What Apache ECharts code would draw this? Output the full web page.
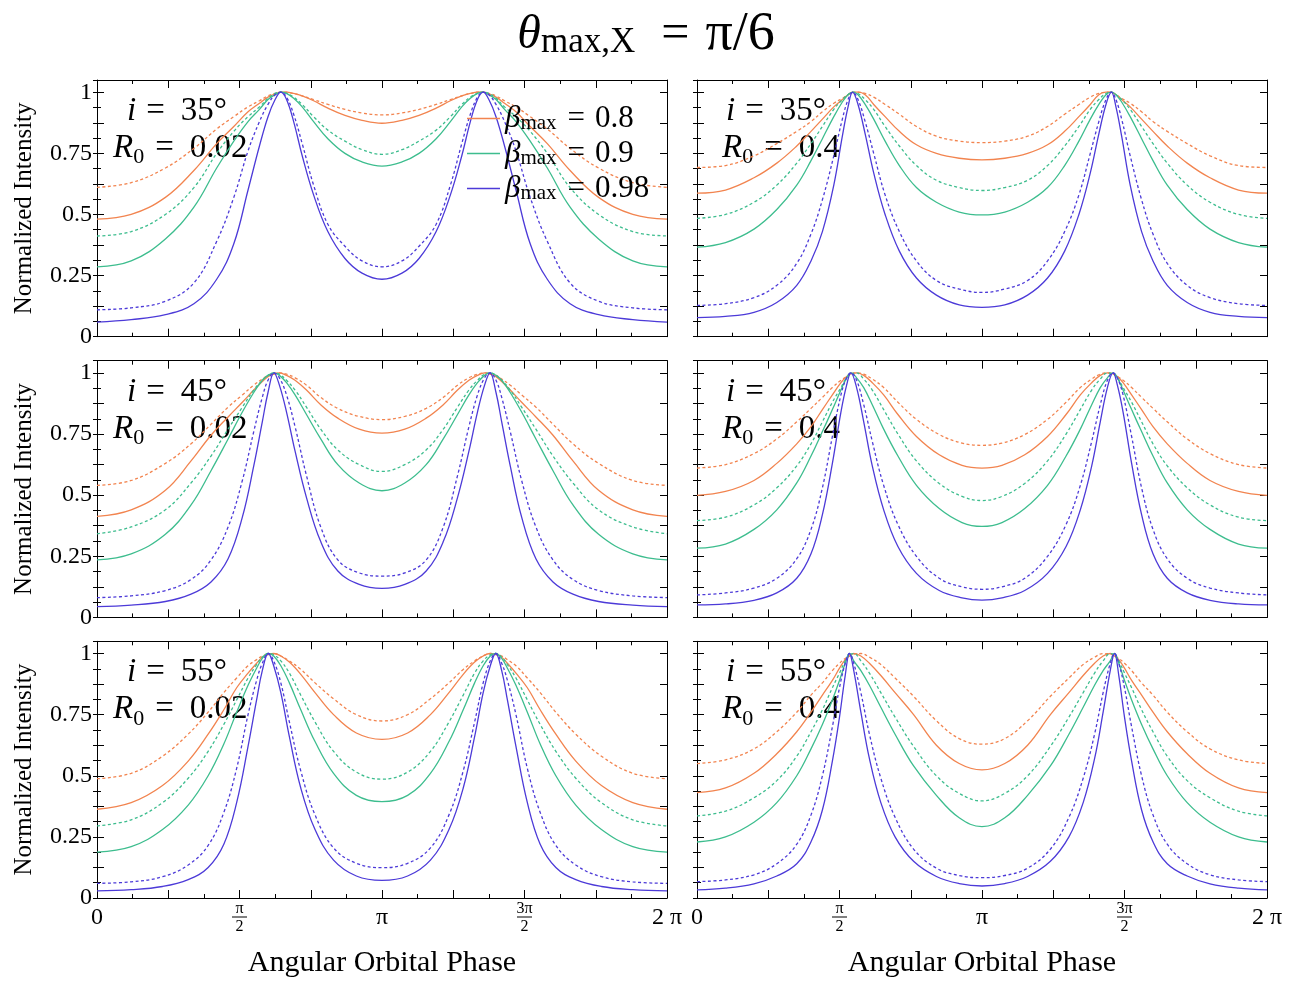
<!DOCTYPE html>
<html>
<head>
<meta charset="utf-8">
<script src="https://cdn.jsdelivr.net/npm/echarts@6/dist/echarts.min.js"></script>
<style>
  html, body { margin: 0; padding: 0; background: #fff; }
  #chart { width: 1292px; height: 1003px; }
</style>
</head>
<body>
<div id="chart"></div>
<script>
// phase is in units of pi (0 .. 2)
const phase_i35_R002 = [0, 0.12, 0.24, 0.34, 0.42, 0.48, 0.53, 0.57, 0.6, 0.625, 0.645, 0.665, 0.69, 0.72, 0.76, 0.81, 0.87, 0.93, 1, 1.07, 1.13, 1.19, 1.24, 1.28, 1.31, 1.335, 1.355, 1.375, 1.4, 1.43, 1.47, 1.52, 1.58, 1.66, 1.76, 1.88, 2];
const i35_R002_b08 = [0.481, 0.5, 0.57, 0.68, 0.79, 0.86, 0.92, 0.955, 0.98, 0.993, 1, 1, 0.995, 0.985, 0.965, 0.935, 0.905, 0.885, 0.873, 0.885, 0.905, 0.935, 0.965, 0.985, 0.995, 1, 1, 0.993, 0.98, 0.955, 0.92, 0.86, 0.79, 0.68, 0.57, 0.5, 0.481];
const i35_R002_b08_dot = [0.611, 0.63, 0.69, 0.77, 0.85, 0.9, 0.94, 0.965, 0.985, 0.995, 1, 1, 0.995, 0.985, 0.97, 0.95, 0.93, 0.915, 0.907, 0.915, 0.93, 0.95, 0.97, 0.985, 0.995, 1, 1, 0.995, 0.985, 0.965, 0.94, 0.9, 0.85, 0.77, 0.69, 0.63, 0.611];
const i35_R002_b09 = [0.286, 0.31, 0.4, 0.53, 0.69, 0.8, 0.88, 0.93, 0.97, 0.99, 1, 0.995, 0.975, 0.94, 0.88, 0.81, 0.75, 0.715, 0.698, 0.715, 0.75, 0.81, 0.88, 0.94, 0.975, 0.995, 1, 0.99, 0.97, 0.93, 0.88, 0.8, 0.69, 0.53, 0.4, 0.31, 0.286];
const i35_R002_b09_dot = [0.412, 0.43, 0.5, 0.61, 0.75, 0.84, 0.9, 0.94, 0.975, 0.995, 1, 0.995, 0.98, 0.95, 0.9, 0.845, 0.8, 0.765, 0.746, 0.765, 0.8, 0.845, 0.9, 0.95, 0.98, 0.995, 1, 0.995, 0.975, 0.94, 0.9, 0.84, 0.75, 0.61, 0.5, 0.43, 0.412];
const i35_R002_b098 = [0.06, 0.07, 0.09, 0.135, 0.235, 0.38, 0.6, 0.78, 0.9, 0.97, 1, 0.97, 0.88, 0.74, 0.58, 0.43, 0.32, 0.26, 0.235, 0.26, 0.32, 0.43, 0.58, 0.74, 0.88, 0.97, 1, 0.97, 0.9, 0.78, 0.6, 0.38, 0.235, 0.135, 0.09, 0.07, 0.06];
const i35_R002_b098_dot = [0.11, 0.118, 0.145, 0.22, 0.39, 0.57, 0.76, 0.88, 0.95, 0.99, 1, 0.98, 0.91, 0.79, 0.62, 0.46, 0.37, 0.31, 0.286, 0.31, 0.37, 0.46, 0.62, 0.79, 0.91, 0.98, 1, 0.99, 0.95, 0.88, 0.76, 0.57, 0.39, 0.22, 0.145, 0.118, 0.11];

const phase_i35_R04 = [0, 0.1, 0.2, 0.28, 0.35, 0.4, 0.44, 0.48, 0.51, 0.53, 0.546, 0.565, 0.59, 0.62, 0.66, 0.71, 0.77, 0.84, 0.92, 1, 1.08, 1.16, 1.23, 1.29, 1.34, 1.38, 1.41, 1.435, 1.454, 1.47, 1.49, 1.52, 1.56, 1.6, 1.65, 1.72, 1.8, 1.9, 2];
const i35_R04_b08 = [0.587, 0.6, 0.65, 0.71, 0.78, 0.84, 0.89, 0.94, 0.97, 0.99, 1, 1, 0.99, 0.95, 0.9, 0.84, 0.785, 0.75, 0.73, 0.723, 0.73, 0.75, 0.785, 0.84, 0.9, 0.95, 0.99, 1, 1, 0.99, 0.97, 0.94, 0.89, 0.84, 0.78, 0.71, 0.65, 0.6, 0.587];
const i35_R04_b08_dot = [0.692, 0.7, 0.74, 0.79, 0.84, 0.88, 0.92, 0.955, 0.975, 0.99, 0.998, 1, 0.995, 0.98, 0.95, 0.91, 0.86, 0.82, 0.8, 0.794, 0.8, 0.82, 0.86, 0.91, 0.95, 0.98, 0.995, 1, 0.998, 0.99, 0.975, 0.955, 0.92, 0.88, 0.84, 0.79, 0.74, 0.7, 0.692];
const i35_R04_b09 = [0.366, 0.385, 0.44, 0.52, 0.62, 0.72, 0.81, 0.9, 0.96, 0.99, 1, 0.99, 0.95, 0.89, 0.8, 0.7, 0.61, 0.55, 0.51, 0.498, 0.51, 0.55, 0.61, 0.7, 0.8, 0.89, 0.95, 0.99, 1, 0.99, 0.96, 0.9, 0.81, 0.72, 0.62, 0.52, 0.44, 0.385, 0.366];
const i35_R04_b09_dot = [0.484, 0.5, 0.55, 0.62, 0.71, 0.79, 0.86, 0.93, 0.97, 0.99, 1, 0.995, 0.97, 0.93, 0.86, 0.78, 0.7, 0.64, 0.61, 0.598, 0.61, 0.64, 0.7, 0.78, 0.86, 0.93, 0.97, 0.995, 1, 0.99, 0.97, 0.93, 0.86, 0.79, 0.71, 0.62, 0.55, 0.5, 0.484];
const i35_R04_b098 = [0.078, 0.083, 0.1, 0.14, 0.21, 0.31, 0.43, 0.62, 0.82, 0.94, 1, 0.95, 0.83, 0.67, 0.5, 0.35, 0.24, 0.17, 0.13, 0.12, 0.13, 0.17, 0.24, 0.35, 0.5, 0.67, 0.83, 0.95, 1, 0.94, 0.82, 0.62, 0.43, 0.31, 0.21, 0.14, 0.1, 0.083, 0.078];
const i35_R04_b098_dot = [0.128, 0.135, 0.16, 0.21, 0.3, 0.42, 0.56, 0.74, 0.89, 0.97, 1, 0.97, 0.88, 0.75, 0.58, 0.43, 0.31, 0.23, 0.195, 0.181, 0.195, 0.23, 0.31, 0.43, 0.58, 0.75, 0.88, 0.97, 1, 0.97, 0.89, 0.74, 0.56, 0.42, 0.3, 0.21, 0.16, 0.135, 0.128];

const phase_i45_R002 = [0, 0.12, 0.24, 0.33, 0.4, 0.46, 0.51, 0.55, 0.58, 0.6, 0.621, 0.64, 0.665, 0.695, 0.735, 0.785, 0.845, 0.92, 1, 1.08, 1.155, 1.215, 1.265, 1.305, 1.335, 1.36, 1.379, 1.4, 1.42, 1.45, 1.49, 1.54, 1.6, 1.67, 1.76, 1.88, 2];
const i45_R002_b08 = [0.413, 0.44, 0.52, 0.64, 0.745, 0.82, 0.88, 0.93, 0.965, 0.985, 0.995, 1, 0.99, 0.97, 0.93, 0.87, 0.815, 0.77, 0.754, 0.77, 0.815, 0.87, 0.93, 0.97, 0.99, 1, 0.995, 0.985, 0.965, 0.93, 0.88, 0.82, 0.745, 0.64, 0.52, 0.44, 0.413];
const i45_R002_b08_dot = [0.54, 0.56, 0.63, 0.71, 0.79, 0.86, 0.91, 0.95, 0.975, 0.99, 0.998, 1, 0.995, 0.98, 0.95, 0.9, 0.855, 0.822, 0.809, 0.822, 0.855, 0.9, 0.95, 0.98, 0.995, 1, 0.998, 0.99, 0.975, 0.95, 0.91, 0.86, 0.79, 0.71, 0.63, 0.56, 0.54];
const i45_R002_b09 = [0.235, 0.26, 0.34, 0.46, 0.6, 0.73, 0.84, 0.92, 0.97, 0.99, 1, 0.99, 0.96, 0.91, 0.83, 0.73, 0.625, 0.55, 0.518, 0.55, 0.625, 0.73, 0.83, 0.91, 0.96, 0.99, 1, 0.99, 0.97, 0.92, 0.84, 0.73, 0.6, 0.46, 0.34, 0.26, 0.235];
const i45_R002_b09_dot = [0.342, 0.37, 0.44, 0.55, 0.66, 0.77, 0.86, 0.93, 0.97, 0.99, 1, 0.995, 0.97, 0.93, 0.86, 0.77, 0.685, 0.625, 0.597, 0.625, 0.685, 0.77, 0.86, 0.93, 0.97, 0.995, 1, 0.99, 0.97, 0.93, 0.86, 0.77, 0.66, 0.55, 0.44, 0.37, 0.342];
const i45_R002_b098 = [0.044, 0.05, 0.065, 0.095, 0.145, 0.24, 0.41, 0.62, 0.8, 0.92, 1, 0.95, 0.84, 0.68, 0.49, 0.31, 0.19, 0.135, 0.119, 0.135, 0.19, 0.31, 0.49, 0.68, 0.84, 0.95, 1, 0.92, 0.8, 0.62, 0.41, 0.24, 0.145, 0.095, 0.065, 0.05, 0.044];
const i45_R002_b098_dot = [0.081, 0.088, 0.11, 0.155, 0.235, 0.37, 0.56, 0.76, 0.9, 0.97, 1, 0.98, 0.91, 0.78, 0.58, 0.37, 0.235, 0.182, 0.169, 0.182, 0.235, 0.37, 0.58, 0.78, 0.91, 0.98, 1, 0.97, 0.9, 0.76, 0.56, 0.37, 0.235, 0.155, 0.11, 0.088, 0.081];

const phase_i45_R04 = [0, 0.1, 0.2, 0.28, 0.35, 0.4, 0.44, 0.475, 0.505, 0.525, 0.54, 0.56, 0.585, 0.615, 0.655, 0.705, 0.77, 0.85, 0.93, 1, 1.07, 1.15, 1.23, 1.295, 1.345, 1.385, 1.415, 1.44, 1.46, 1.475, 1.495, 1.525, 1.56, 1.6, 1.65, 1.72, 1.8, 1.9, 2];
const i45_R04_b08 = [0.499, 0.515, 0.56, 0.63, 0.71, 0.78, 0.85, 0.91, 0.96, 0.985, 0.997, 1, 0.99, 0.96, 0.91, 0.83, 0.74, 0.665, 0.622, 0.611, 0.622, 0.665, 0.74, 0.83, 0.91, 0.96, 0.99, 1, 0.997, 0.985, 0.96, 0.91, 0.85, 0.78, 0.71, 0.63, 0.56, 0.515, 0.499];
const i45_R04_b08_dot = [0.611, 0.625, 0.67, 0.73, 0.8, 0.855, 0.9, 0.94, 0.97, 0.985, 0.995, 1, 0.995, 0.975, 0.94, 0.88, 0.81, 0.748, 0.713, 0.704, 0.713, 0.748, 0.81, 0.88, 0.94, 0.975, 0.995, 1, 0.995, 0.985, 0.97, 0.94, 0.9, 0.855, 0.8, 0.73, 0.67, 0.625, 0.611];
const i45_R04_b09 = [0.283, 0.3, 0.36, 0.44, 0.55, 0.66, 0.76, 0.85, 0.93, 0.98, 1, 0.98, 0.94, 0.87, 0.77, 0.66, 0.54, 0.445, 0.388, 0.372, 0.388, 0.445, 0.54, 0.66, 0.77, 0.87, 0.94, 0.98, 1, 0.98, 0.93, 0.85, 0.76, 0.66, 0.55, 0.44, 0.36, 0.3, 0.283];
const i45_R04_b09_dot = [0.396, 0.41, 0.46, 0.53, 0.62, 0.71, 0.8, 0.88, 0.94, 0.98, 0.995, 1, 0.975, 0.93, 0.85, 0.75, 0.64, 0.548, 0.495, 0.478, 0.495, 0.548, 0.64, 0.75, 0.85, 0.93, 0.975, 1, 0.995, 0.98, 0.94, 0.88, 0.8, 0.71, 0.62, 0.53, 0.46, 0.41, 0.396];
const i45_R04_b098 = [0.051, 0.055, 0.07, 0.1, 0.16, 0.26, 0.42, 0.63, 0.84, 0.95, 1, 0.94, 0.8, 0.62, 0.44, 0.29, 0.18, 0.11, 0.08, 0.071, 0.08, 0.11, 0.18, 0.29, 0.44, 0.62, 0.8, 0.94, 1, 0.95, 0.84, 0.63, 0.42, 0.26, 0.16, 0.1, 0.07, 0.055, 0.051];
const i45_R04_b098_dot = [0.092, 0.1, 0.12, 0.16, 0.24, 0.36, 0.53, 0.74, 0.91, 0.98, 1, 0.97, 0.87, 0.72, 0.54, 0.38, 0.25, 0.16, 0.125, 0.115, 0.125, 0.16, 0.25, 0.38, 0.54, 0.72, 0.87, 0.97, 1, 0.98, 0.91, 0.74, 0.53, 0.36, 0.24, 0.16, 0.12, 0.1, 0.092];

const phase_i55_R002 = [0, 0.12, 0.23, 0.32, 0.39, 0.445, 0.49, 0.53, 0.56, 0.58, 0.601, 0.62, 0.645, 0.675, 0.715, 0.765, 0.83, 0.91, 1, 1.09, 1.17, 1.235, 1.285, 1.325, 1.355, 1.38, 1.399, 1.42, 1.44, 1.47, 1.51, 1.555, 1.61, 1.68, 1.77, 1.88, 2];
const i55_R002_b08 = [0.363, 0.39, 0.46, 0.56, 0.67, 0.77, 0.86, 0.92, 0.96, 0.985, 0.995, 1, 0.99, 0.965, 0.915, 0.84, 0.75, 0.675, 0.649, 0.675, 0.75, 0.84, 0.915, 0.965, 0.99, 1, 0.995, 0.985, 0.96, 0.92, 0.86, 0.77, 0.67, 0.56, 0.46, 0.39, 0.363];
const i55_R002_b08_dot = [0.488, 0.51, 0.58, 0.67, 0.76, 0.84, 0.9, 0.95, 0.975, 0.99, 0.998, 1, 0.99, 0.97, 0.935, 0.88, 0.815, 0.75, 0.724, 0.75, 0.815, 0.88, 0.935, 0.97, 0.99, 1, 0.998, 0.99, 0.975, 0.95, 0.9, 0.84, 0.76, 0.67, 0.58, 0.51, 0.488];
const i55_R002_b09 = [0.188, 0.21, 0.28, 0.38, 0.5, 0.63, 0.76, 0.87, 0.94, 0.98, 1, 0.99, 0.95, 0.88, 0.77, 0.64, 0.51, 0.42, 0.394, 0.42, 0.51, 0.64, 0.77, 0.88, 0.95, 0.99, 1, 0.98, 0.94, 0.87, 0.76, 0.63, 0.5, 0.38, 0.28, 0.21, 0.188];
const i55_R002_b09_dot = [0.295, 0.32, 0.39, 0.49, 0.6, 0.71, 0.81, 0.9, 0.955, 0.985, 1, 0.995, 0.97, 0.92, 0.83, 0.72, 0.6, 0.515, 0.486, 0.515, 0.6, 0.72, 0.83, 0.92, 0.97, 0.995, 1, 0.985, 0.955, 0.9, 0.81, 0.71, 0.6, 0.49, 0.39, 0.32, 0.295];
const i55_R002_b098 = [0.029, 0.034, 0.047, 0.075, 0.125, 0.22, 0.39, 0.62, 0.81, 0.93, 1, 0.95, 0.84, 0.66, 0.45, 0.28, 0.155, 0.09, 0.072, 0.09, 0.155, 0.28, 0.45, 0.66, 0.84, 0.95, 1, 0.93, 0.81, 0.62, 0.39, 0.22, 0.125, 0.075, 0.047, 0.034, 0.029];
const i55_R002_b098_dot = [0.06, 0.066, 0.087, 0.135, 0.215, 0.35, 0.53, 0.75, 0.89, 0.96, 1, 0.97, 0.88, 0.72, 0.52, 0.34, 0.205, 0.142, 0.124, 0.142, 0.205, 0.34, 0.52, 0.72, 0.88, 0.97, 1, 0.96, 0.89, 0.75, 0.53, 0.35, 0.215, 0.135, 0.087, 0.066, 0.06];

const phase_i55_R04 = [0, 0.1, 0.2, 0.28, 0.35, 0.4, 0.44, 0.475, 0.5, 0.52, 0.535, 0.55, 0.575, 0.605, 0.645, 0.695, 0.76, 0.84, 0.92, 1, 1.08, 1.16, 1.24, 1.305, 1.355, 1.395, 1.425, 1.45, 1.465, 1.48, 1.5, 1.525, 1.56, 1.6, 1.65, 1.72, 1.8, 1.9, 2];
const i55_R04_b08 = [0.431, 0.45, 0.51, 0.59, 0.68, 0.76, 0.83, 0.89, 0.94, 0.975, 0.99, 1, 0.99, 0.96, 0.91, 0.84, 0.75, 0.625, 0.55, 0.524, 0.55, 0.625, 0.75, 0.84, 0.91, 0.96, 0.99, 1, 0.99, 0.975, 0.94, 0.89, 0.83, 0.76, 0.68, 0.59, 0.51, 0.45, 0.431];
const i55_R04_b08_dot = [0.55, 0.565, 0.61, 0.68, 0.76, 0.83, 0.88, 0.93, 0.96, 0.98, 0.99, 0.998, 1, 0.985, 0.955, 0.9, 0.825, 0.725, 0.652, 0.629, 0.652, 0.725, 0.825, 0.9, 0.955, 0.985, 1, 0.998, 0.99, 0.98, 0.96, 0.93, 0.88, 0.83, 0.76, 0.68, 0.61, 0.565, 0.55];
const i55_R04_b09 = [0.229, 0.25, 0.31, 0.39, 0.5, 0.61, 0.71, 0.81, 0.89, 0.96, 1, 0.97, 0.93, 0.87, 0.78, 0.67, 0.54, 0.42, 0.328, 0.292, 0.328, 0.42, 0.54, 0.67, 0.78, 0.87, 0.93, 0.97, 1, 0.96, 0.89, 0.81, 0.71, 0.61, 0.5, 0.39, 0.31, 0.25, 0.229];
const i55_R04_b09_dot = [0.336, 0.355, 0.41, 0.48, 0.58, 0.68, 0.77, 0.86, 0.92, 0.97, 0.995, 1, 0.97, 0.92, 0.84, 0.74, 0.62, 0.5, 0.428, 0.397, 0.428, 0.5, 0.62, 0.74, 0.84, 0.92, 0.97, 1, 0.995, 0.97, 0.92, 0.86, 0.77, 0.68, 0.58, 0.48, 0.41, 0.355, 0.336];
const i55_R04_b098 = [0.033, 0.04, 0.058, 0.09, 0.14, 0.23, 0.36, 0.56, 0.74, 0.91, 1, 0.93, 0.76, 0.57, 0.39, 0.25, 0.15, 0.088, 0.059, 0.049, 0.059, 0.088, 0.15, 0.25, 0.39, 0.57, 0.76, 0.93, 1, 0.91, 0.74, 0.56, 0.36, 0.23, 0.14, 0.09, 0.058, 0.04, 0.033];
const i55_R04_b098_dot = [0.067, 0.074, 0.095, 0.14, 0.22, 0.34, 0.5, 0.7, 0.86, 0.96, 1, 0.96, 0.84, 0.67, 0.49, 0.33, 0.2, 0.122, 0.092, 0.083, 0.092, 0.122, 0.2, 0.33, 0.49, 0.67, 0.84, 0.96, 1, 0.96, 0.86, 0.7, 0.5, 0.34, 0.22, 0.14, 0.095, 0.074, 0.067];

const betas = ['0.8', '0.9', '0.98'];
const xTickValues = [0, 0.5, 1, 1.5, 2];
const xTickLabels = ['0', 'π/2', 'π', '3π/2', '2 π'];
const yTickValues = [0, 0.25, 0.5, 0.75, 1];
const yTickLabels = ['0', '0.25', '0.5', '0.75', '1'];

const panels = [
  { incl: '35', r0: '0.02', phase: phase_i35_R002, curves: [i35_R002_b08, i35_R002_b08_dot, i35_R002_b09, i35_R002_b09_dot, i35_R002_b098, i35_R002_b098_dot] },
  { incl: '35', r0: '0.4', phase: phase_i35_R04, curves: [i35_R04_b08, i35_R04_b08_dot, i35_R04_b09, i35_R04_b09_dot, i35_R04_b098, i35_R04_b098_dot] },
  { incl: '45', r0: '0.02', phase: phase_i45_R002, curves: [i45_R002_b08, i45_R002_b08_dot, i45_R002_b09, i45_R002_b09_dot, i45_R002_b098, i45_R002_b098_dot] },
  { incl: '45', r0: '0.4', phase: phase_i45_R04, curves: [i45_R04_b08, i45_R04_b08_dot, i45_R04_b09, i45_R04_b09_dot, i45_R04_b098, i45_R04_b098_dot] },
  { incl: '55', r0: '0.02', phase: phase_i55_R002, curves: [i55_R002_b08, i55_R002_b08_dot, i55_R002_b09, i55_R002_b09_dot, i55_R002_b098, i55_R002_b098_dot] },
  { incl: '55', r0: '0.4', phase: phase_i55_R04, curves: [i55_R04_b08, i55_R04_b08_dot, i55_R04_b09, i55_R04_b09_dot, i55_R04_b098, i55_R04_b098_dot] },
];

const SERIF = '"Liberation Serif", "DejaVu Serif", serif';
const colors = { '0.8': '#f2844f', '0.9': '#3dbd8e', '0.98': '#4c3ad8' };

const colLeft = [97, 697];
const rowTop = [80, 360.7, 641.3];
const gridW = 570;
const gridH = 256.7;

const chart = echarts.init(document.getElementById('chart'));

const grids = [];
const xAxes = [];
const yAxes = [];
const series = [];
const graphics = [];

const frameLine = { show: true, onZero: false, lineStyle: { color: '#000', width: 1 } };
const tickLine = { color: '#000', width: 1 };

panels.forEach((pn, g) => {
  const col = g % 2;
  const row = Math.floor(g / 2);
  grids.push({ left: colLeft[col], top: rowTop[row], width: gridW, height: gridH });

  const xCommon = {
    type: 'value', gridIndex: g, min: 0, max: 2, interval: 0.25,
    axisLine: frameLine,
    axisTick: { show: true, inside: true, length: 8, lineStyle: tickLine },
    minorTick: { show: true, splitNumber: 2, length: 4, lineStyle: tickLine },
    splitLine: { show: false },
  };
  xAxes.push(Object.assign({}, xCommon, {
    position: 'bottom',
    name: row === 2 ? 'Angular Orbital Phase' : '',
    nameLocation: 'middle',
    nameGap: 50,
    nameTextStyle: { fontFamily: SERIF, fontSize: 30, color: '#000' },
    axisLabel: row === 2 ? {
      show: true, showMinLabel: true, showMaxLabel: true,
      margin: 20, verticalAlign: 'middle', color: '#000',
      formatter: (v) => {
        const k = xTickValues.findIndex((t) => Math.abs(t - v) < 1e-6);
        if (k < 0) return '';
        const s = xTickLabels[k];
        if (s.indexOf('/') >= 0) {
          const parts = s.split('/');
          return '{n|' + parts[0] + '}\n{bar|}\n{d|' + parts[1] + '}';
        }
        return '{m|' + s + '}';
      },
      rich: {
        m: { fontFamily: SERIF, fontSize: 24, color: '#000', align: 'center' },
        n: { fontFamily: SERIF, fontSize: 16, lineHeight: 14, color: '#000', align: 'center' },
        bar: { width: 15, height: 1, lineHeight: 3, backgroundColor: '#000', align: 'center' },
        d: { fontFamily: SERIF, fontSize: 16, lineHeight: 16, color: '#000', align: 'center' },
      },
    } : { show: false },
  }));
  xAxes.push(Object.assign({}, xCommon, { position: 'top', axisLabel: { show: false } }));

  // major ticks every 0.125 (with frame), short ticks every 0.0625 on a helper axis
  const yMajor = {
    type: 'value', gridIndex: g, min: 0, max: 1.05, interval: 0.125,
    axisLine: frameLine,
    axisTick: { show: true, inside: true, length: 7, lineStyle: tickLine },
    splitLine: { show: false },
  };
  const yMinor = {
    type: 'value', gridIndex: g, min: 0, max: 1.05, interval: 0.0625,
    axisLine: { show: false },
    axisTick: { show: true, inside: true, length: 4, lineStyle: tickLine },
    axisLabel: { show: false },
    splitLine: { show: false },
  };
  yAxes.push(Object.assign({}, yMajor, {
    position: 'left',
    name: col === 0 ? 'Normalized Intensity' : '',
    nameLocation: 'middle',
    nameRotate: 90,
    nameGap: 60,
    nameTextStyle: { fontFamily: SERIF, fontSize: 25, color: '#000' },
    axisLabel: col === 0 ? {
      show: true, margin: 5, color: '#000', fontFamily: SERIF, fontSize: 24,
      formatter: (v) => {
        const k = yTickValues.findIndex((t) => Math.abs(t - v) < 1e-6);
        return k < 0 ? '' : yTickLabels[k];
      },
    } : { show: false },
  }));
  yAxes.push(Object.assign({}, yMajor, { position: 'right', axisLabel: { show: false } }));
  yAxes.push(Object.assign({}, yMinor, { position: 'left' }));
  yAxes.push(Object.assign({}, yMinor, { position: 'right' }));

  pn.curves.forEach((vals, c) => {
    const beta = betas[Math.floor(c / 2)];
    const dotted = c % 2 === 1;
    series.push({
      type: 'line',
      name: dotted ? beta + ' dotted' : beta,
      xAxisIndex: 2 * g,
      yAxisIndex: 4 * g,
      data: pn.phase.map((p, i) => [p, vals[i]]),
      showSymbol: false,
      symbol: 'none',
      smooth: 0.4,
      silent: true,
      itemStyle: { color: colors[beta] },
      lineStyle: { color: colors[beta], width: 1.3, type: dotted ? [3, 2.5] : 'solid' },
    });
  });

  // panel annotations
  const dy = rowTop[row] - rowTop[0];
  graphics.push({
    type: 'text', left: [127, 726][col], top: 95 + dy, silent: true,
    style: {
      text: '{it|i}{eq|=}{t|' + pn.incl + '°}',
      rich: {
        it: { fontFamily: SERIF, fontSize: 33, fontStyle: 'italic', fill: '#000' },
        eq: { fontFamily: SERIF, fontSize: 33, fill: '#000', padding: [0, 16, 0, 10] },
        t: { fontFamily: SERIF, fontSize: 33, fill: '#000' },
      },
    },
  });
  graphics.push({
    type: 'text', left: [113, 722][col], top: 132 + dy, silent: true,
    style: {
      text: '{it|R}{sub|0}{eq|=}{t|' + pn.r0 + '}',
      rich: {
        it: { fontFamily: SERIF, fontSize: 33, fontStyle: 'italic', fill: '#000', lineHeight: 40 },
        sub: { fontFamily: SERIF, fontSize: 22, fill: '#000', lineHeight: 22, verticalAlign: 'bottom' },
        eq: { fontFamily: SERIF, fontSize: 33, fill: '#000', padding: [0, 16, 0, 11], lineHeight: 40 },
        t: { fontFamily: SERIF, fontSize: 33, fill: '#000', lineHeight: 40 },
      },
    },
  });
});

// main title
graphics.push({
  type: 'text', left: 'center', top: 8, silent: true,
  style: {
    text: '{th|θ}{sub|max,X}{eq|=}{t|π/6}',
    rich: {
      th: { fontFamily: SERIF, fontSize: 48, fontStyle: 'italic', fill: '#000', lineHeight: 50 },
      sub: { fontFamily: SERIF, fontSize: 35, fill: '#000', lineHeight: 30, verticalAlign: 'bottom' },
      eq: { fontFamily: SERIF, fontSize: 50, fill: '#000', lineHeight: 50, padding: [0, 16, 0, 26] },
      t: { fontFamily: SERIF, fontSize: 54, fill: '#000', lineHeight: 50 },
    },
  },
});

const option = {
  animation: false,
  backgroundColor: '#fff',
  grid: grids,
  xAxis: xAxes,
  yAxis: yAxes,
  series: series,
  legend: {
    data: betas,
    left: 462,
    top: 98,
    orient: 'vertical',
    icon: 'rect',
    itemWidth: 33,
    itemHeight: 1.4,
    itemGap: 4,
    selectedMode: false,
    formatter: (name) => '{b|β}{s|max}{t|=}{v|' + name + '}',
    textStyle: {
      rich: {
        b: { fontFamily: SERIF, fontSize: 31, fontStyle: 'italic', color: '#000', lineHeight: 30 },
        s: { fontFamily: SERIF, fontSize: 21, color: '#000', lineHeight: 21, verticalAlign: 'bottom' },
        t: { fontFamily: SERIF, fontSize: 31, color: '#000', lineHeight: 30, padding: [0, 10, 0, 11] },
        v: { fontFamily: SERIF, fontSize: 31, color: '#000', lineHeight: 30 },
      },
    },
  },
  graphic: graphics,
};

chart.setOption(option);
</script>
</body>
</html>
